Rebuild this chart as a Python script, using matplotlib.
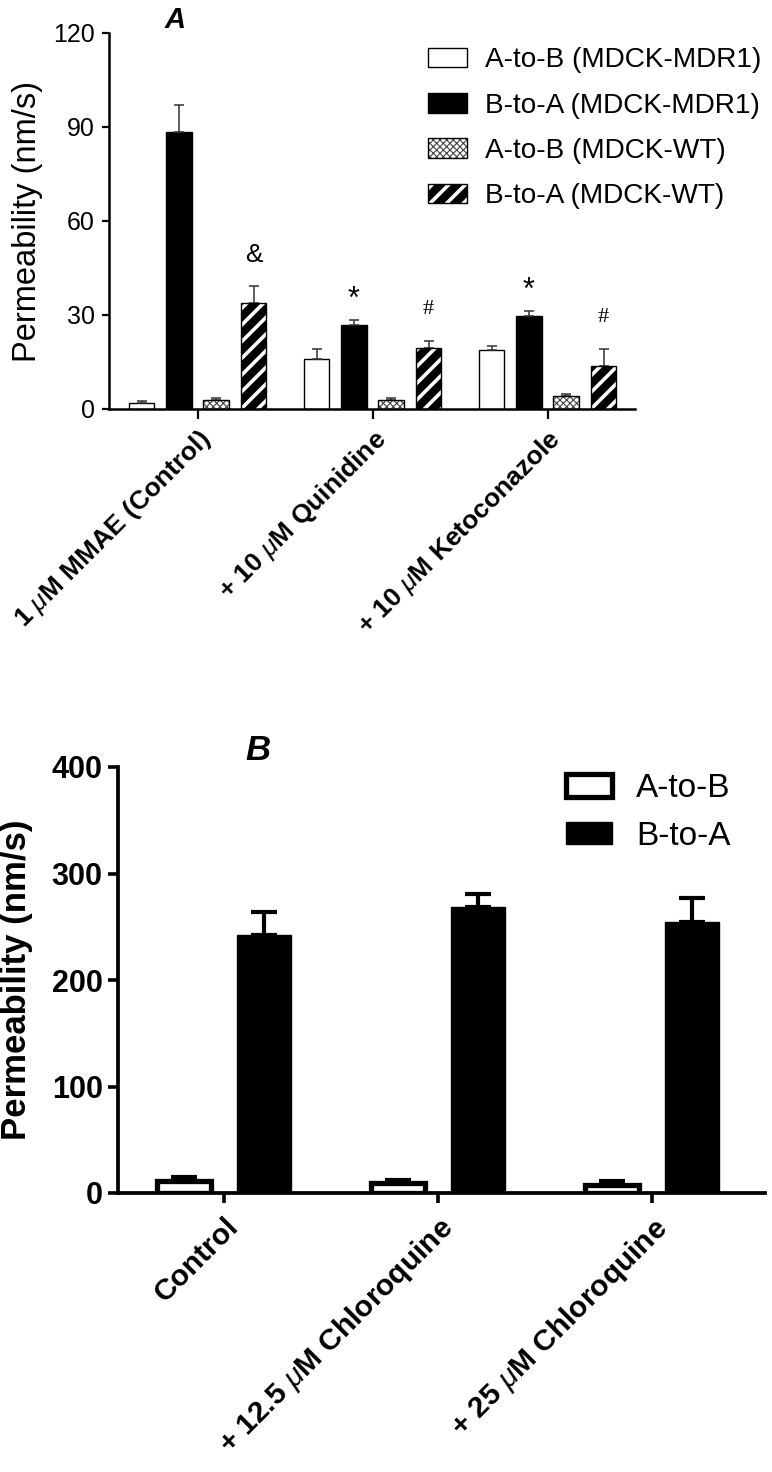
import matplotlib
matplotlib.use("Agg")
import matplotlib.pyplot as plt
from matplotlib.legend_handler import HandlerTuple
from matplotlib.patches import Rectangle
import numpy as np

plt.rcParams['font.family'] = ['Liberation Sans', 'DejaVu Sans']
plt.rcParams['mathtext.fontset'] = 'custom'
plt.rcParams['mathtext.rm'] = 'Liberation Sans'
plt.rcParams['mathtext.it'] = 'Liberation Sans:italic'
plt.rcParams['mathtext.bf'] = 'Liberation Sans:bold'

# ---------------- panel A data ----------------
groups_a = [r"1 $\mu$M MMAE (Control)", r"+ 10 $\mu$M Quinidine", r"+ 10 $\mu$M Ketoconazole"]
ab_mdr1 = [1.8, 16.0, 18.9]
ab_mdr1_err = [0.8, 3.2, 1.2]
ba_mdr1 = [88.5, 26.8, 29.7]
ba_mdr1_err = [8.5, 1.6, 1.6]
ab_wt = [2.9, 2.9, 4.2]
ab_wt_err = [0.7, 0.6, 0.6]
ba_wt = [33.9, 19.5, 13.7]
ba_wt_err = [5.4, 2.2, 5.5]
labels_a = ["A-to-B (MDCK-MDR1)", "B-to-A (MDCK-MDR1)", "A-to-B (MDCK-WT)", "B-to-A (MDCK-WT)"]
# (group index, series index, symbol)
marks_a = [(0, 3, "&"), (1, 1, "*"), (1, 3, "#"), (2, 1, "*"), (2, 3, "#")]

# ---------------- panel B data ----------------
groups_b = ["Control", r"+ 12.5 $\mu$M Chloroquine", r"+ 25 $\mu$M Chloroquine"]
ab_b = [11.5, 9.0, 7.5]
ab_b_err = [3.8, 3.5, 3.5]
ba_b = [242, 269, 254]
ba_b_err = [22, 12, 23]
labels_b = ["A-to-B", "B-to-A"]

STRIPE_LW = 2.6
CHECK_LW = 0.8


def set_hatch_lw(patches, lw):
    for p in patches:
        if hasattr(p, "set_hatch_linewidth"):
            p.set_hatch_linewidth(lw)


fig = plt.figure(figsize=(7.72, 14.72), dpi=100)

# ======================= Panel A =======================
axA = fig.add_axes([109/772, 1-409/1472, 526/772, 376/1472])
x = np.arange(len(groups_a))
w = 0.147
offs = [-0.32, -0.107, 0.107, 0.32]
vals = [ab_mdr1, ba_mdr1, ab_wt, ba_wt]
errs = [ab_mdr1_err, ba_mdr1_err, ab_wt_err, ba_wt_err]
ekw = dict(ecolor="#333333", elinewidth=1.1, capsize=3.6, capthick=1.1)

b0 = axA.bar(x+offs[0], ab_mdr1, w, color="white", edgecolor="black", linewidth=1.0,
             yerr=[np.zeros(3), ab_mdr1_err], error_kw=ekw, zorder=2)
b1 = axA.bar(x+offs[1], ba_mdr1, w, color="black", edgecolor="black", linewidth=1.0,
             yerr=[np.zeros(3), ba_mdr1_err], error_kw=ekw, zorder=2)
b2 = axA.bar(x+offs[2], ab_wt, w, color="white", edgecolor="#444444", hatch="xxxxx", linewidth=0,
             yerr=[np.zeros(3), ab_wt_err], error_kw=ekw, zorder=2)
b2o = axA.bar(x+offs[2], ab_wt, w, fill=False, edgecolor="black", linewidth=1.0, zorder=3)
b3 = axA.bar(x+offs[3], ba_wt, w, color="black", edgecolor="white", hatch="//", linewidth=0,
             yerr=[np.zeros(3), ba_wt_err], error_kw=ekw, zorder=2)
b3o = axA.bar(x+offs[3], ba_wt, w, fill=False, edgecolor="black", linewidth=1.0, zorder=3)
set_hatch_lw(b3.patches, STRIPE_LW)
set_hatch_lw(b2.patches, CHECK_LW)

sym_style = {"&": dict(fontsize=19, family=['Liberation Sans']),
             "*": dict(fontsize=22, family=['Liberation Sans']),
             "#": dict(fontsize=16, family=['Liberation Serif'])}
sym_off = {"&": 10.0, "*": 6.5, "#": 10.0}
for g, s, sym in marks_a:
    top = vals[s][g] + errs[s][g]
    axA.text(x[g]+offs[s], top+sym_off[sym], sym, ha="center", va="center", **sym_style[sym])

axA.set_xlim(-0.506, 2.50)
axA.set_ylim(0, 120)
axA.set_yticks([0, 30, 60, 90, 120])
axA.set_xticks(x)
axA.set_xticklabels(groups_a, rotation=45, ha="right", rotation_mode="anchor",
                    fontsize=19, fontweight="bold")
axA.tick_params(axis="y", labelsize=18, length=5, width=1.6, pad=5)
axA.tick_params(axis="x", length=7, width=1.6, pad=5)
for s in ["top", "right"]:
    axA.spines[s].set_visible(False)
for s in ["left", "bottom"]:
    axA.spines[s].set_linewidth(1.8)
axA.set_ylabel("Permeability (nm/s)", fontsize=23.5)
axA.yaxis.set_label_coords(-0.125, 0.5)
fig.text(175/772, 1-20/1472, "A", fontsize=21, fontweight="bold", fontstyle="italic",
         ha="center", va="center")

handles_a = [b0.patches[0], b1.patches[0], (b2.patches[0], b2o.patches[0]),
             (b3.patches[0], b3o.patches[0])]
legA = fig.legend(handles_a, labels_a, loc="upper left", bbox_to_anchor=(417/772, 1-36/1472),
                  frameon=False, fontsize=20.2, handlelength=1.37, handletextpad=0.67,
                  labelspacing=0.69, borderaxespad=0,
                  handler_map={tuple: HandlerTuple(ndivide=1, pad=0)})
for r in legA.findobj(Rectangle):
    h = r.get_hatch()
    if h == "//":
        set_hatch_lw([r], STRIPE_LW)
    elif h:
        set_hatch_lw([r], CHECK_LW)

# ======================= Panel B =======================
axB = fig.add_axes([118/772, 1-1193/1472, 647/772, 426/1472])
xb = np.arange(len(groups_b))
wb = 0.25
ekwb = dict(ecolor="black", elinewidth=3, capsize=9.4, capthick=3)
bb0 = axB.bar(xb-0.187, ab_b, wb, color="white", edgecolor="black", linewidth=3.8,
              yerr=[np.zeros(3), ab_b_err], error_kw=ekwb, zorder=2)
bb1 = axB.bar(xb+0.187, ba_b, wb, color="black", edgecolor="black", linewidth=1,
              yerr=[np.zeros(3), ba_b_err], error_kw=ekwb, zorder=2)
axB.set_xlim(-0.495, 2.528)
axB.set_ylim(0, 400)
axB.set_yticks([0, 100, 200, 300, 400])
axB.set_xticks(xb)
axB.set_xticklabels(groups_b, rotation=45, ha="right", rotation_mode="anchor",
                    fontsize=21.5, fontweight="bold")
axB.tick_params(axis="y", labelsize=22, length=7, width=2.6, pad=4)
axB.tick_params(axis="x", length=7, width=2.6, pad=7)
for lab in axB.get_yticklabels():
    lab.set_fontweight("bold")
for s in ["top", "right"]:
    axB.spines[s].set_visible(False)
for s in ["left", "bottom"]:
    axB.spines[s].set_linewidth(2.7)
axB.set_ylabel("Permeability (nm/s)", fontsize=25, fontweight="bold")
axB.yaxis.set_label_coords(-0.131, 0.5)
fig.text(258/772, 1-750/1472, "B", fontsize=25, fontweight="bold", fontstyle="italic",
         ha="center", va="center")
fig.legend([bb0.patches[0], bb1.patches[0]], labels_b, loc="upper left",
           bbox_to_anchor=(553/772, 1-760/1472), frameon=False, fontsize=24,
           handlelength=1.38, handleheight=0.66, handletextpad=0.72, labelspacing=0.49,
           borderaxespad=0)

fig.savefig("out.png", dpi=100)
